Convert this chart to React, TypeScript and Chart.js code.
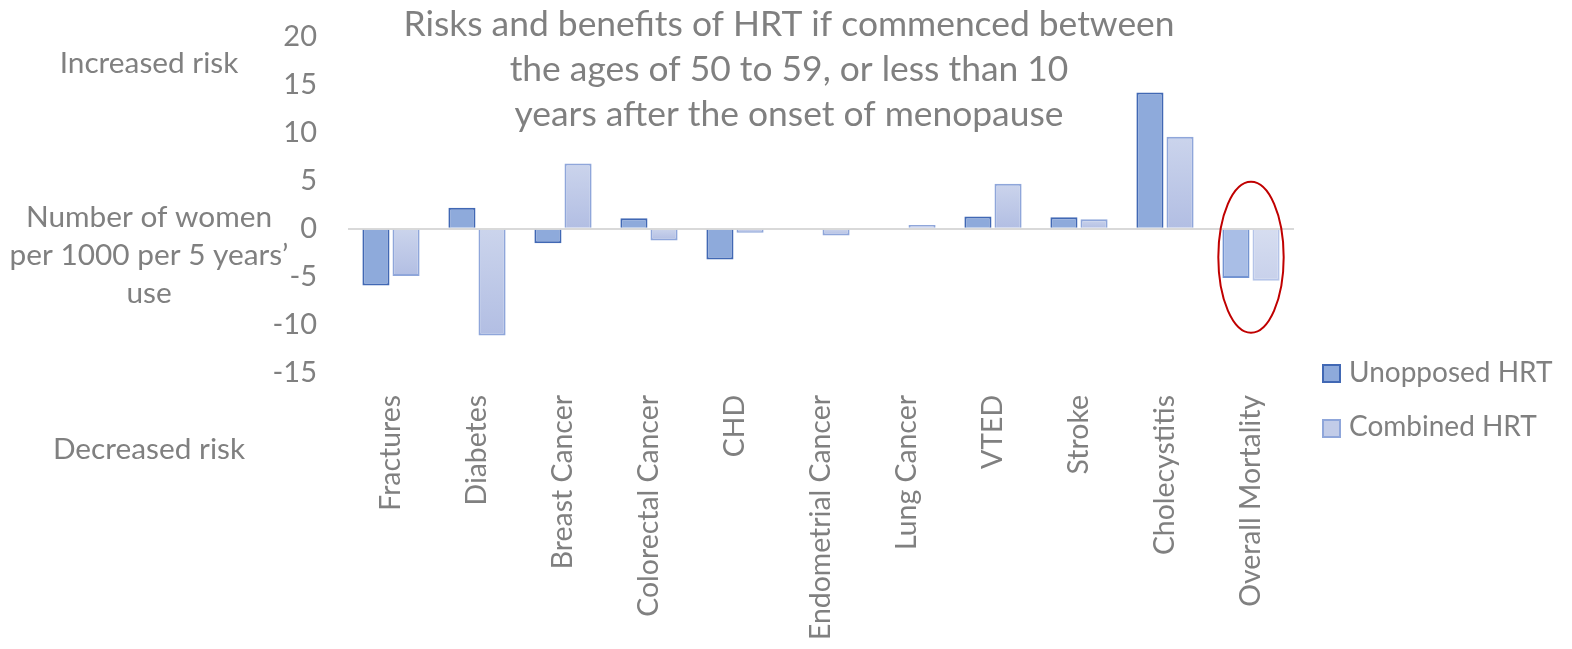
import React, { useEffect, useRef } from "react";
import { Chart, registerables } from "chart.js";

Chart.register(...registerables);

// ---- data ----
const categories = [
  "Fractures",
  "Diabetes",
  "Breast Cancer",
  "Colorectal Cancer",
  "CHD",
  "Endometrial Cancer",
  "Lung Cancer",
  "VTED",
  "Stroke",
  "Cholecystitis",
  "Overall Mortality",
];
const unopposedHRT: (number | null)[] = [-5.9, 2.2, -1.5, 1.1, -3.2, null, null, 1.3, 1.2, 14.2, -5.1];
const combinedHRT: (number | null)[] = [-4.9, -11.1, 6.8, -1.2, -0.4, -0.7, 0.4, 4.7, 1.0, 9.6, -5.4];
const seriesLabels = ["Unopposed HRT", "Combined HRT"];
const yMin = -15;
const yMax = 20;
const yStep = 5;
const titleLines = [
  "Risks and benefits of HRT if commenced between",
  "the ages of 50 to 59, or less than 10",
  "years after the onset of menopause",
];
const topNote = "Increased risk";
const axisNoteLines = ["Number of women", "per 1000 per 5 years\u2019", "use"];
const bottomNote = "Decreased risk";
const highlightIndex = 10; // Overall Mortality (circled)
const ellipseTopValue = 4.9;
const ellipseBottomValue = -10.8;

// ---- styles ----
const FONT = "Lato, 'Noto Sans', sans-serif";
const TEXT = "#808080";

const W = 1556;
const H = 633;

function unopFill(c: any) {
  return c.dataIndex === highlightIndex ? "#a9bee6" : "#8eaadb";
}
function unopBorder(c: any) {
  return c.dataIndex === highlightIndex ? "#7394d2" : "#4168b4";
}
function combBorder(c: any) {
  return c.dataIndex === highlightIndex ? "#b5c4e8" : "#8fa6da";
}
function combFill(c: any) {
  const hl = c.dataIndex === highlightIndex;
  const fallback = hl ? "#cfd7ee" : "#bfc9e6";
  const chart = c.chart;
  const ys = chart && chart.scales && chart.scales.y;
  const v = c.dataset && c.dataset.data ? c.dataset.data[c.dataIndex] : null;
  if (!ys || v == null) return fallback;
  const p0 = ys.getPixelForValue(0);
  const p1 = ys.getPixelForValue(v);
  const top = Math.min(p0, p1);
  const bot = Math.max(p0, p1);
  if (!isFinite(top) || !isFinite(bot) || bot - top < 1) return fallback;
  const g = chart.ctx.createLinearGradient(0, top, 0, bot);
  if (hl) {
    g.addColorStop(0, "#d6ddf0");
    g.addColorStop(1, "#c8d1eb");
  } else {
    g.addColorStop(0, "#cbd4ec");
    g.addColorStop(1, "#b2bee3");
  }
  return g;
}

const overlayPlugin = {
  id: "overlay",
  afterDatasetsDraw(chart: any) {
    const { ctx, scales } = chart;
    const x = scales.x;
    const y = scales.y;
    const cx = x.getPixelForValue(highlightIndex);
    const step = x.getPixelForValue(1) - x.getPixelForValue(0);
    const top = y.getPixelForValue(ellipseTopValue);
    const bot = y.getPixelForValue(ellipseBottomValue);
    ctx.save();
    ctx.beginPath();
    ctx.ellipse(cx, (top + bot) / 2, step * 0.38, (bot - top) / 2, 0, 0, Math.PI * 2);
    ctx.strokeStyle = "#c00000";
    ctx.lineWidth = 2;
    ctx.stroke();
    ctx.restore();
  },
  afterDraw(chart: any) {
    const { ctx } = chart;
    ctx.save();
    ctx.fillStyle = TEXT;
    ctx.textBaseline = "alphabetic";

    // title
    ctx.textAlign = "center";
    ctx.font = `35.4px ${FONT}`;
    const titleBase = [28, 73, 118];
    titleLines.forEach((t, i) => ctx.fillText(t, 781, titleBase[i]));

    // left notes
    ctx.font = `29.8px ${FONT}`;
    const nx = 141;
    ctx.fillText(topNote, nx, 65);
    const noteBase = [219, 257, 295];
    axisNoteLines.forEach((t, i) => ctx.fillText(t, nx, noteBase[i]));
    ctx.fillText(bottomNote, nx, 451);

    // legend
    const ds = chart.data.datasets;
    const boxX = 1314;
    const boxTops = [356, 411];
    const textBase = [374, 428];
    ctx.textAlign = "left";
    ctx.font = `28px ${FONT}`;
    ds.forEach((d: any, i: number) => {
      ctx.fillStyle = i === 0 ? "#8eaadb" : "#c2cce8";
      ctx.fillRect(boxX, boxTops[i], 19, 19);
      ctx.strokeStyle = i === 0 ? "#4168b4" : "#8fa6da";
      ctx.lineWidth = 2;
      ctx.strokeRect(boxX + 1, boxTops[i] + 1, 17, 17);
      ctx.fillStyle = TEXT;
      ctx.fillText(d.label, 1341, textBase[i]);
    });
    ctx.restore();
  },
};

export default function App() {
  const ref = useRef<HTMLCanvasElement | null>(null);
  useEffect(() => {
    if (!ref.current) return;
    const chart = new Chart(ref.current, {
      type: "bar",
      data: {
        labels: categories,
        datasets: [
          {
            label: seriesLabels[0],
            data: unopposedHRT,
            backgroundColor: unopFill as any,
            borderColor: unopBorder as any,
            borderWidth: 2,
          },
          {
            label: seriesLabels[1],
            data: combinedHRT,
            backgroundColor: combFill as any,
            borderColor: combBorder as any,
            borderWidth: 2,
          },
        ],
      },
      options: {
        responsive: false,
        animation: false,
        devicePixelRatio: 1,
        datasets: { bar: { categoryPercentage: 0.7, barPercentage: 0.9 } },
        layout: { padding: { top: 28.7, right: W - 1286, left: 0, bottom: 0 } },
        plugins: {
          legend: { display: false },
          title: { display: false },
          tooltip: { enabled: false },
        },
        scales: {
          x: {
            grid: { display: false, drawTicks: false },
            border: { display: false },
            ticks: {
              color: TEXT,
              font: { family: FONT, size: 28.4 },
              minRotation: 90,
              maxRotation: 90,
              autoSkip: false,
              padding: 22,
            },
            afterFit: (s: any) => {
              s.height = H - 365;
            },
          },
          y: {
            min: yMin,
            max: yMax,
            z: 1,
            grid: {
              drawTicks: true,
              tickLength: 31,
              tickColor: "rgba(0,0,0,0)",
              lineWidth: 2,
              color: (c: any) => (c.tick && c.tick.value === 0 ? "#d9d9d9" : "rgba(0,0,0,0)"),
            },
            border: { display: false },
            ticks: {
              stepSize: yStep,
              color: TEXT,
              font: { family: FONT, size: 29 },
              padding: 0,
            },
            afterFit: (s: any) => {
              s.width = 340;
            },
          },
        },
      },
      plugins: [overlayPlugin],
    });
    return () => chart.destroy();
  }, []);
  return (
    <div style={{ width: W, height: H }}>
      <canvas ref={ref} width={W} height={H} style={{ display: "block" }} />
    </div>
  );
}
